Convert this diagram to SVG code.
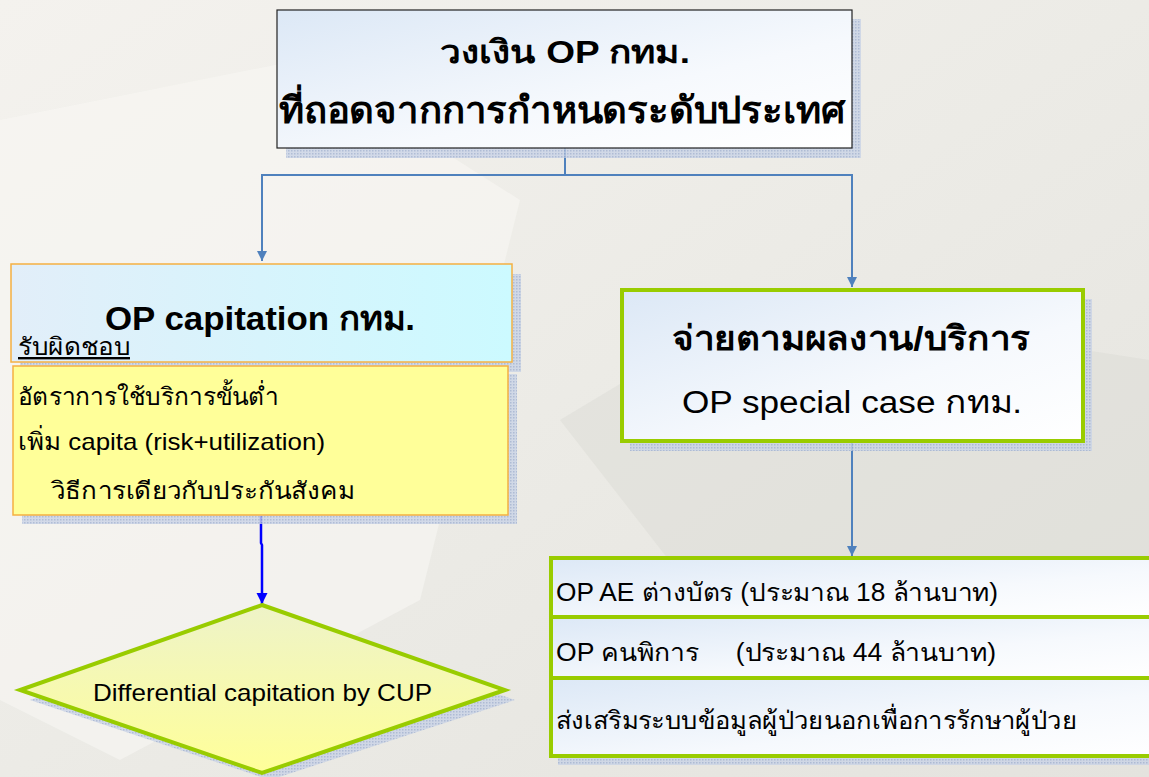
<svg xmlns="http://www.w3.org/2000/svg" width="1149" height="777" viewBox="0 0 1149 777">
<defs>
<linearGradient id="bg" x1="0" y1="0" x2="1" y2="1">
<stop offset="0" stop-color="#f4f2ee"/>
<stop offset="0.5" stop-color="#ecebe6"/>
<stop offset="1" stop-color="#e4e3de"/>
</linearGradient>
<linearGradient id="boxBlue" x1="0" y1="0" x2="1" y2="1">
<stop offset="0" stop-color="#dce8f6"/>
<stop offset="0.6" stop-color="#f6f9fd"/>
<stop offset="1" stop-color="#ffffff"/>
</linearGradient>
<linearGradient id="boxCyan" x1="0" y1="0" x2="1" y2="0">
<stop offset="0" stop-color="#e2eef9"/>
<stop offset="1" stop-color="#ccfaff"/>
</linearGradient>
<linearGradient id="diam" x1="0" y1="0" x2="0" y2="1">
<stop offset="0" stop-color="#eef3c8"/>
<stop offset="1" stop-color="#ffff99"/>
</linearGradient>
<pattern id="dots" width="3" height="3" patternUnits="userSpaceOnUse">
<rect width="3" height="3" fill="#c9d3e6"/>
<rect width="1.5" height="1.5" fill="#9fb0d0"/>
</pattern>
<marker id="arrS" viewBox="0 0 10 10" refX="10" refY="5" markerWidth="5" markerHeight="5" orient="auto">
<path d="M0,0 L10,5 L0,10 z" fill="#4f81bd"/>
</marker>
<marker id="arrB" viewBox="0 0 10 10" refX="10" refY="5" markerWidth="4.5" markerHeight="4.5" orient="auto">
<path d="M0,0 L10,5 L0,10 z" fill="#0000ff"/>
</marker>
</defs>
<style>
text { font-family: "Liberation Sans", "Noto Sans", "DejaVu Sans", sans-serif; fill: #000; }
.b { font-weight: bold; }
.shadow { fill: url(#dots); opacity: 0.8; }
.conn { fill: none; stroke: #4f81bd; stroke-width: 2; }
.green { stroke: #99cc00; stroke-width: 4; }
.orange { stroke: #f5b042; stroke-width: 1.5; }
</style>
<rect width="1149" height="777" fill="url(#bg)"/>
<path d="M0,120 L300,60 L520,200 L420,600 L120,760 L0,700 z" fill="#f8f7f4" opacity="0.6"/>
<path d="M560,420 L760,300 L1149,360 L1149,560 L700,600 z" fill="#dcdbd6" opacity="0.5"/>

<g id="connectors">
<path class="conn" d="M565,148 V175 H262 V261" marker-end="url(#arrS)"/>
<path class="conn" d="M565,175 H852 V287" marker-end="url(#arrS)"/>
<path class="conn" d="M852,441 V556" marker-end="url(#arrS)"/>
<path d="M261,516 V543 L262,545 V604" fill="none" stroke="#0000ff" stroke-width="2.5" marker-end="url(#arrB)"/>
</g>

<g id="top">
<rect class="shadow" x="286" y="19" width="575" height="139"/>
<rect x="277" y="10" width="575" height="138" fill="url(#boxBlue)" stroke="#222" stroke-width="1.2"/>
<text class="b" x="440" y="63" font-size="32" textLength="250" lengthAdjust="spacingAndGlyphs">วงเงิน OP กทม.</text>
<text class="b" x="279" y="123" font-size="37" textLength="566" lengthAdjust="spacingAndGlyphs">ที่ถอดจากการกำหนดระดับประเทศ</text>
</g>

<g id="capitation">
<rect class="shadow" x="20" y="274" width="501" height="98"/>
<rect class="orange" x="11" y="264" width="501" height="98" fill="url(#boxCyan)"/>
<text class="b" x="105" y="330" font-size="34" textLength="310" lengthAdjust="spacingAndGlyphs">OP capitation กทม.</text>
<text x="18" y="355" font-size="24" text-decoration="underline" textLength="112" lengthAdjust="spacingAndGlyphs">รับผิดชอบ</text>
</g>

<g id="yellowbox">
<rect class="shadow" x="22" y="374" width="495" height="150"/>
<rect class="orange" x="13" y="366" width="495" height="149" fill="#ffff99"/>
<text x="18" y="405" font-size="24" textLength="260" lengthAdjust="spacingAndGlyphs">อัตราการใช้บริการขั้นต่ำ</text>
<text x="18" y="450" font-size="24" textLength="307" lengthAdjust="spacingAndGlyphs">เพิ่ม capita (risk+utilization)</text>
<text x="51" y="499" font-size="24" textLength="304" lengthAdjust="spacingAndGlyphs">วิธีการเดียวกับประกันสังคม</text>
</g>

<g id="diamond">
<polygon class="shadow" points="270,612 515,700 270,780 30,700"/>
<polygon class="green" points="262,605 505,690 262,773 20,690" fill="url(#diam)"/>
<text x="93" y="701" font-size="24" textLength="339" lengthAdjust="spacingAndGlyphs">Differential capitation by CUP</text>
</g>

<g id="special">
<rect class="shadow" x="630" y="299" width="462" height="152"/>
<rect class="green" x="622" y="290" width="461" height="151" fill="url(#boxBlue)"/>
<text class="b" x="672" y="350" font-size="34" textLength="358" lengthAdjust="spacingAndGlyphs">จ่ายตามผลงาน/บริการ</text>
<text x="682" y="413" font-size="31" textLength="340" lengthAdjust="spacingAndGlyphs">OP special case กทม.</text>
</g>

<g id="list">
<rect class="shadow" x="558" y="566" width="600" height="199"/>
<rect class="green" x="551" y="558" width="610" height="59" fill="url(#boxBlue)"/>
<rect class="green" x="551" y="617" width="610" height="61" fill="url(#boxBlue)"/>
<rect class="green" x="551" y="678" width="610" height="78" fill="url(#boxBlue)"/>
<text x="556" y="601" font-size="25" textLength="442" lengthAdjust="spacingAndGlyphs">OP AE ต่างบัตร (ประมาณ 18 ล้านบาท)</text>
<text x="556" y="661" font-size="25" xml:space="preserve" textLength="440" lengthAdjust="spacingAndGlyphs">OP คนพิการ     (ประมาณ 44 ล้านบาท)</text>
<text x="556" y="729" font-size="25" textLength="521" lengthAdjust="spacingAndGlyphs">ส่งเสริมระบบข้อมูลผู้ป่วยนอกเพื่อการรักษาผู้ป่วย</text>
</g>
</svg>
